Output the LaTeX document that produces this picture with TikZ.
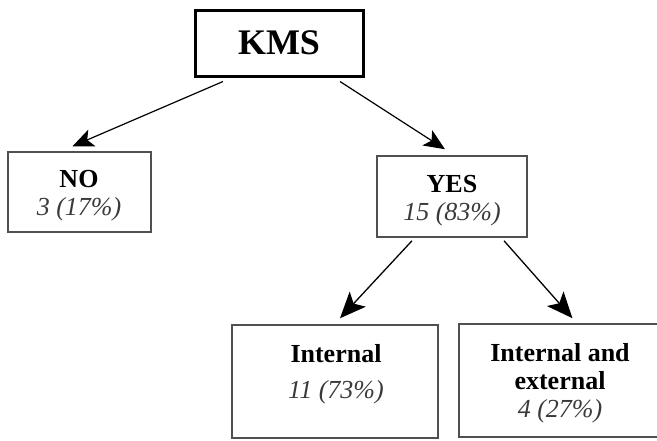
\documentclass[tikz,border=0pt]{standalone}
\usepackage{fontspec}
\setmainfont{Liberation Serif}
\usetikzlibrary{arrows.meta}
\definecolor{boxgray}{HTML}{505050}
\definecolor{txtgray}{HTML}{3A3A3A}
\tikzset{
  box/.style={draw=boxgray, line width=1.5pt, rectangle, inner sep=0pt},
  topbox/.style={draw=black, line width=3pt, rectangle, inner sep=0pt,
     font=\fontsize{36}{38}\selectfont\bfseries},
  btxt/.style={anchor=base, inner sep=0pt, font=\fontsize{26}{27}\selectfont\bfseries},
  itxt/.style={anchor=base, inner sep=0pt, text=txtgray, font=\fontsize{26}{27}\selectfont\itshape},
  arr/.style={draw=black, line width=1.2pt, -{Stealth[length=21pt, width=18pt, inset=5pt]}},
  bigarr/.style={draw=black, line width=1.3pt, -{Stealth[length=26pt, width=22pt, inset=6pt]}}
}
\begin{document}
\begin{tikzpicture}[x=1pt, y=-1pt]
\useasboundingbox (0,0) rectangle (657,440);
% boxes
\node[topbox, minimum width=168pt, minimum height=66pt] (kms) at (279,43) {KMS};
\node[box, minimum width=143pt, minimum height=80pt] (no) at (79.5,192) {};
\node[box, minimum width=150pt, minimum height=81pt] (yes) at (452,196.5) {};
\node[box, minimum width=206pt, minimum height=113pt] (int) at (335,381.5) {};
\node[box, minimum width=203pt, minimum height=113pt] (ie) at (560.5,380.5) {};
% texts
\node[btxt] (noA) at (79,187) {NO};
\node[itxt] (noB) at (79,215) {3 (17\%)};
\node[btxt] (yesA) at (452,192) {YES};
\node[itxt] (yesB) at (452,220) {15 (83\%)};
\node[btxt] (intA) at (336,362) {Internal};
\node[itxt] (intB) at (336,398) {11 (73\%)};
\node[btxt] (ieA) at (560,361) {Internal and};
\node[btxt] (ieB) at (560,389) {external};
\node[itxt] (ieC) at (560,417) {4 (27\%)};
% connectors
\draw[arr] ([xshift=-56pt,yshift=-4pt]kms.south) -- ([xshift=-7pt,yshift=5pt]no.north);
\draw[arr] ([xshift=61pt,yshift=-4pt]kms.south) -- ([xshift=-7pt,yshift=6pt]yes.north);
\draw[bigarr] ([xshift=-40pt,yshift=-3pt]yes.south) -- ([xshift=5pt,yshift=6pt]int.north);
\draw[bigarr] ([xshift=52pt,yshift=-3pt]yes.south) -- ([xshift=12pt,yshift=5pt]ie.north);
\end{tikzpicture}
\end{document}
